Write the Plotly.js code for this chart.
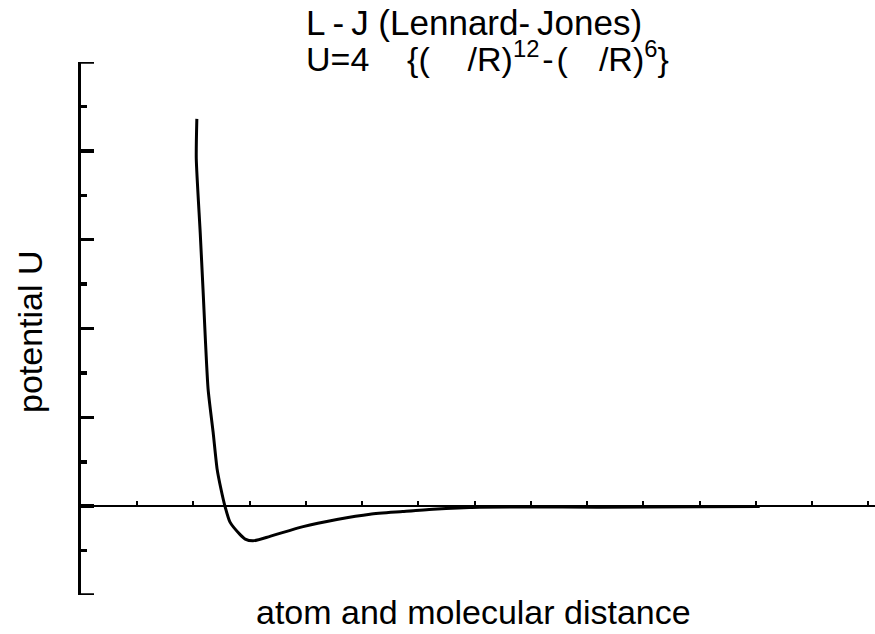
<!DOCTYPE html>
<html>
<head>
<meta charset="utf-8">
<script src="https://cdn.plot.ly/plotly-3.0.1.min.js"></script>
<style>html,body{margin:0;padding:0;background:#fff;}#chart{width:875px;height:634px;}</style>
</head>
<body>
<div id="chart"></div>
<script>
// Curve (distance, potential)
const distance = [2.06, 2.05, 2.12, 2.17, 2.26, 2.35, 2.42, 2.49, 2.56, 2.65, 2.83, 2.92, 3.06, 3.36, 3.95, 4.55, 5.14, 5.72, 6.26, 7.09, 9.23, 11.0, 12.07];
const potential = [4.36, 3.91, 3.08, 2.44, 1.32, 0.83, 0.42, 0.19, 0.0, -0.18, -0.32, -0.37, -0.39, -0.34, -0.23, -0.15, -0.09, -0.06, -0.034, -0.011, -0.011, -0.006, -0.005];
// y-axis end brackets (axis range ends)
const yEnds = [-1, 5];

const titleLine1 = "L\u2009-\u2009J (Lennard-\u2009Jones)";
const titleLine2 = "U=4\u00A0\u00A0\u00A0\u00A0{(\u00A0\u00A0\u00A0\u00A0/R)<sup>12</sup>\u200A-\u200A(\u00A0\u00A0\u00A0\u200A/R)<sup>6</sup>}";
const yTitle = "potential U";
const xTitle = "atom and molecular distance";

const FONT = "Arial, 'Liberation Sans', sans-serif";
const W = 875, H = 634, L = 81, T = 62, PW = 794, PH = 533;
const px = (x) => (x - L) / PW;
const py = (y) => (T + PH - y) / PH;

const trace = {
  x: distance, y: potential, type: 'scatter', mode: 'lines',
  line: {color: '#000', width: 3, shape: 'spline', smoothing: 0.6}, hoverinfo: 'skip'
};

const shapes = yEnds.map(v => ({
  type: 'line', xref: 'paper', yref: 'y', x0: -1.5/PW, x1: 13/PW, y0: v, y1: v,
  line: {color: '#000', width: 3.5}
}));

const layout = {
  width: W, height: H,
  margin: {l: L, r: 0, t: T, b: H - T - PH},
  paper_bgcolor: '#fff', plot_bgcolor: '#fff',
  showlegend: false,
  font: {family: FONT, color: '#000'},
  xaxis: {
    range: [0, 14.12], showgrid: false, zeroline: false,
    showline: true, linecolor: '#000', linewidth: 2,
    anchor: 'free', position: 1/6,
    ticks: 'inside', ticklen: 4, tickwidth: 2, tickcolor: '#000',
    dtick: 1, tick0: 0, showticklabels: false
  },
  yaxis: {
    range: [-1, 5], showgrid: false, zeroline: false,
    showline: true, linecolor: '#000', linewidth: 3.5,
    ticks: 'inside', ticklen: 13, tickwidth: 3.5, tickcolor: '#000',
    dtick: 1, tick0: 0, showticklabels: false,
    minor: {ticks: 'inside', ticklen: 6, tickwidth: 3.5, tickcolor: '#000', dtick: 0.5, showgrid: false}
  },
  shapes: shapes,
  annotations: [
    {text: titleLine1, xref: 'paper', yref: 'paper', x: px(304), y: py(22),
     xanchor: 'left', yanchor: 'middle', showarrow: false,
     font: {family: FONT, size: 35, color: '#000'}},
    {text: titleLine2, xref: 'paper', yref: 'paper', x: px(304), y: py(57),
     xanchor: 'left', yanchor: 'middle', showarrow: false,
     font: {family: FONT, size: 34, color: '#000'}},
    {text: yTitle, xref: 'paper', yref: 'paper', x: px(30), y: py(332),
     xanchor: 'center', yanchor: 'middle', textangle: -90, showarrow: false,
     font: {family: FONT, size: 34, color: '#000'}},
    {text: xTitle, xref: 'paper', yref: 'paper', x: px(473), y: py(612),
     xanchor: 'center', yanchor: 'middle', showarrow: false,
     font: {family: FONT, size: 34, color: '#000'}}
  ]
};

Plotly.newPlot('chart', [trace], layout, {displayModeBar: false, staticPlot: true});
</script>
</body>
</html>
